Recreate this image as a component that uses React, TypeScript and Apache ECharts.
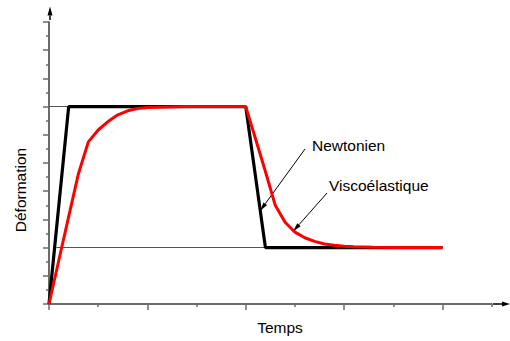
import React, { useEffect, useRef } from "react";
import * as echarts from "echarts";

// Newtonian response (time, deformation)
const newtonT = [0, 0.4, 4.0, 4.4, 8.0];
const newtonD = [0, 7, 7, 2, 2];

// Viscoelastic response (time, deformation)
const viscoT = [0, 0.2, 0.4, 0.6, 0.8, 1.0, 1.2, 1.4, 1.6, 1.8, 2.0, 2.4, 2.8, 3.2, 3.6, 4.0,
  4.2, 4.4, 4.6, 4.8, 5.0, 5.2, 5.4, 5.6, 5.8, 6.0, 6.2, 6.6, 7.0, 7.5, 8.0];
const viscoD = [0, 1.55, 3.1, 4.63, 5.75, 6.17, 6.47, 6.71, 6.85, 6.93, 6.97, 6.99, 7, 7, 7, 7,
  5.85, 4.7, 3.5, 2.9, 2.55, 2.35, 2.22, 2.13, 2.08, 2.05, 2.03, 2.01, 2, 2, 2];

// Reference levels
const levelHigh = 7;
const levelLow = 2;

const xMajorTicks = [0, 2, 4, 6, 8];
const xMinorTicks = [1, 3, 5, 7, 9];

const FONT = "'Liberation Sans', Arial, Helvetica, sans-serif";

function arrow(x1: number, y1: number, x2: number, y2: number, headLen: number, headW: number, lw: number) {
  const dx = x2 - x1, dy = y2 - y1;
  const len = Math.sqrt(dx * dx + dy * dy);
  const ux = dx / len, uy = dy / len;
  const bx = x2 - ux * headLen, by = y2 - uy * headLen;
  const px = -uy, py = ux;
  return [
    { type: "line", shape: { x1, y1, x2: bx, y2: by }, style: { stroke: "#000", lineWidth: lw } },
    {
      type: "polygon",
      shape: { points: [[x2, y2], [bx + px * headW / 2, by + py * headW / 2], [bx - px * headW / 2, by - py * headW / 2]] },
      style: { fill: "#000" },
    },
  ];
}

export default function App() {
  const ref = useRef<HTMLDivElement>(null);
  useEffect(() => {
    const chart = echarts.init(ref.current!, undefined, { renderer: "svg" });
    const axisColor = "#6b6b6b";
    chart.setOption({
      animation: false,
      grid: { left: 49, right: 18.3, top: 22, bottom: 37 },
      xAxis: [
        {
          type: "value", min: 0, max: 9, interval: 1, position: "bottom",
          axisLine: { show: true, onZero: false, lineStyle: { color: axisColor, width: 2 } },
          axisTick: { show: true, customValues: xMinorTicks, length: 3, lineStyle: { color: axisColor, width: 1.5 } },
          axisLabel: { show: false }, splitLine: { show: false },
        },
        {
          type: "value", min: 0, max: 9, interval: 1, position: "bottom",
          axisLine: { show: false },
          axisTick: { show: true, customValues: xMajorTicks, length: 6, lineStyle: { color: axisColor, width: 1.5 } },
          axisLabel: { show: false }, splitLine: { show: false },
        },
      ],
      yAxis: {
        type: "value", min: 0, max: 10, interval: 1,
        axisLine: { show: true, onZero: false, lineStyle: { color: axisColor, width: 2 } },
        axisTick: { show: true, length: 6, lineStyle: { color: axisColor, width: 1.5 } },
        minorTick: { show: true, splitNumber: 2, length: 3, lineStyle: { color: axisColor, width: 1.5 } },
        axisLabel: { show: false }, splitLine: { show: false },
      },
      series: [
        {
          type: "line", data: [], z: 1, silent: true,
          markLine: {
            z: 1, silent: true, symbol: "none", label: { show: false },
            lineStyle: { color: "#555", width: 1, type: "solid" },
            data: [
              [{ coord: [0, levelHigh] }, { coord: [4, levelHigh] }],
              [{ coord: [0.15, levelLow] }, { coord: [8, levelLow] }],
            ],
          },
        },
        {
          name: "Newtonien", type: "line", z: 3, showSymbol: false, silent: true,
          data: newtonT.map((t, i) => [t, newtonD[i]]),
          lineStyle: { color: "#000", width: 3.2 }, itemStyle: { color: "#000" },
        },
        {
          name: "Viscoélastique", type: "line", z: 4, showSymbol: false, silent: true,
          data: viscoT.map((t, i) => [t, viscoD[i]]),
          lineStyle: { color: "#ff0000", width: 3 }, itemStyle: { color: "#ff0000" },
        },
      ],
      graphic: [
        ...arrow(493, 304, 510, 304, 8, 5, 1.5),
        ...arrow(50, 20, 50, 6.5, 9, 5, 1.5),
        ...arrow(305, 149, 260, 211, 9, 4.5, 1),
        ...arrow(327, 193, 293, 231.5, 9, 4.5, 1),
        {
          type: "text", x: 280, y: 327.5,
          style: { text: "Temps", font: `15.5px ${FONT}`, fill: "#000", align: "center", verticalAlign: "middle" },
        },
        {
          type: "text", x: 20.5, y: 190, rotation: Math.PI / 2,
          style: { text: "Déformation", font: `15.5px ${FONT}`, fill: "#000", align: "center", verticalAlign: "middle" },
        },
        {
          type: "text", x: 312, y: 145,
          style: { text: "Newtonien", font: `15.5px ${FONT}`, fill: "#000", align: "left", verticalAlign: "middle" },
        },
        {
          type: "text", x: 329, y: 185.5,
          style: { text: "Viscoélastique", font: `15.5px ${FONT}`, fill: "#000", align: "left", verticalAlign: "middle" },
        },
      ],
    });
    return () => chart.dispose();
  }, []);
  return <div ref={ref} style={{ position: "fixed", left: 0, top: 0, width: 510, height: 341, background: "#fff" }} />;
}
